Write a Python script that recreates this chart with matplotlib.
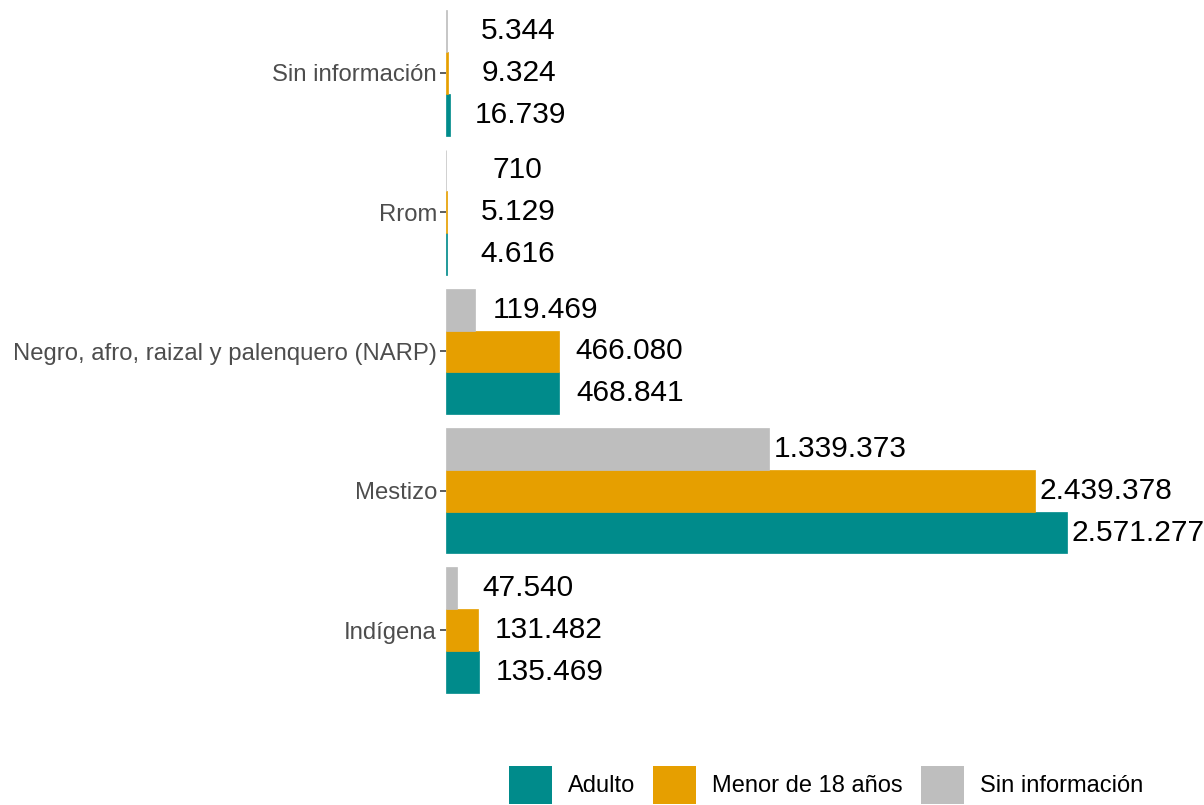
import matplotlib
matplotlib.use("Agg")
import matplotlib.pyplot as plt
from matplotlib.patches import Patch
import numpy as np

categories = ["Indígena", "Mestizo", "Negro, afro, raizal y palenquero (NARP)", "Rrom", "Sin información"]
series_names = ["Adulto", "Menor de 18 años", "Sin información"]
adulto = [135469, 2571277, 468841, 4616, 16739]
menor = [131482, 2439378, 466080, 5129, 9324]
sin_info = [47540, 1339373, 119469, 710, 5344]
colors = ["#008B8B", "#E69F00", "#BEBEBE"]

def fmt(v):
    return f"{v:,}".replace(",", ".")

plt.rcParams['font.family'] = ['Liberation Sans', 'DejaVu Sans']

W, H = 1204, 805
fig = plt.figure(figsize=(W / 100, H / 100), dpi=100)
ax = fig.add_axes([446 / W, (H - 713) / H, 749 / W, 713 / H])

y = np.arange(1, len(categories) + 1)
bh = 0.3
offsets = [-bh, 0, bh]
for vals, off, col in zip([adulto, menor, sin_info], offsets, colors):
    ax.barh(y + off, vals, height=bh, color=col, edgecolor=col, linewidth=0.5)
    for yi, v in zip(y, vals):
        ax.annotate(fmt(v), xy=(v, yi + off), xytext=(51, 0), textcoords="offset points",
                    ha="center", va="center", fontsize=21.5, color="black")

ax.set_xlim(0, 2571277 * 749 / 621)
ax.set_ylim(0.404, 5.524)
ax.set_yticks(y)
ax.set_yticklabels(categories, fontsize=17.2, color="#4D4D4D")
ax.tick_params(axis="y", length=4.5, width=1.1, color="#333333", pad=2)
ax.set_xticks([])
for s in ax.spines.values():
    s.set_visible(False)
ax.patch.set_alpha(0)

handles = [Patch(facecolor=c, edgecolor="none") for c in colors]
fig.legend(handles, series_names, ncol=3, loc="lower left",
           bbox_to_anchor=(508 / W, 0 / H), frameon=False, fontsize=17,
           handlelength=1.8, handleheight=2.1, handletextpad=0.68,
           columnspacing=0.78, borderpad=0.05, borderaxespad=0)

fig.savefig("out.png", dpi=100)
